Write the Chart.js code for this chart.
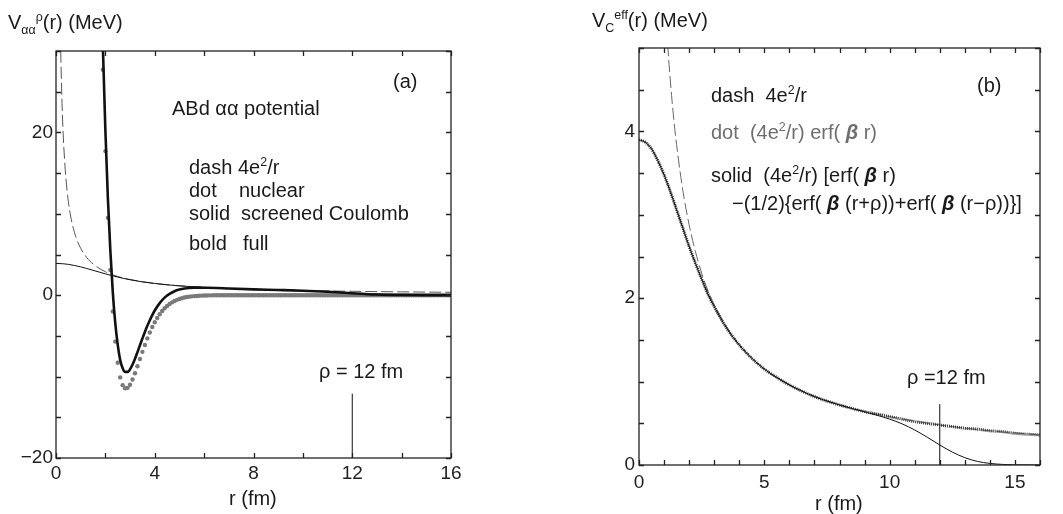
<!DOCTYPE html>
<html>
<head>
<meta charset="utf-8">
<script src="https://cdn.jsdelivr.net/npm/chart.js@4.4.0/dist/chart.umd.min.js"></script>
<style>
  body { margin: 0; background: #fff; width: 1063px; height: 514px; position: relative; overflow: hidden;
         font-family: "Liberation Sans", Arial, sans-serif; color: #1a1a1a; }
  canvas { position: absolute; top: 0; }
  .t { position: absolute; white-space: pre; font-size: 20px; line-height: 20px; }
  .ttl { font-size: 20px; line-height: 20px; }
  sup, sub { font-size: 0.62em; line-height: 0; }
  .gray { color: #6e6e6e; }
  .b { font-weight: bold; font-style: italic; }
</style>
</head>
<body>
<canvas id="chartA" width="531" height="514" style="left:0"></canvas>
<canvas id="chartB" width="532" height="514" style="left:531px"></canvas>

<!-- panel (a) text -->
<div class="t ttl" style="left:8px;top:12px">V<sub>αα</sub><sup>ρ</sup>(r) (MeV)</div>
<div class="t" style="left:393px;top:71px">(a)</div>
<div class="t" style="left:172px;top:98px">ABd αα potential</div>
<div class="t" style="left:189px;top:157px">dash</div><div class="t" style="left:238px;top:157px">4e<sup>2</sup>/r</div>
<div class="t" style="left:189px;top:180px">dot</div><div class="t" style="left:239px;top:180px">nuclear</div>
<div class="t" style="left:189px;top:203px">solid</div><div class="t" style="left:241px;top:203px">screened Coulomb</div>
<div class="t" style="left:189px;top:233px">bold</div><div class="t" style="left:243px;top:233px">full</div>
<div class="t" style="left:319px;top:361px">ρ = 12 fm</div>
<div class="t ttl" style="left:229px;top:488px">r (fm)</div>

<!-- panel (b) text -->
<div class="t ttl" style="left:592px;top:10px">V<sub>C</sub><sup>eff</sup>(r) (MeV)</div>
<div class="t" style="left:977px;top:75px">(b)</div>
<div class="t" style="left:711px;top:85px">dash  4e<sup>2</sup>/r</div>
<div class="t gray" style="left:711px;top:122px">dot  (4e<sup>2</sup>/r) erf( <span class="b">β</span> r)</div>
<div class="t" style="left:711px;top:165px">solid  (4e<sup>2</sup>/r) [erf( <span class="b">β</span> r)</div>
<div class="t" style="left:732px;top:193px">−(1/2){erf( <span class="b">β</span> (r+ρ))+erf( <span class="b">β</span> (r−ρ))}]</div>
<div class="t" style="left:907px;top:367px">ρ =12 fm</div>
<div class="t ttl" style="left:815px;top:493px">r (fm)</div>

<script>
// ---- data ----
// bare Coulomb 4e^2/r (dashed), panel (a)
const dashAR = [0.18, 0.2, 0.25, 0.3, 0.35, 0.4, 0.5, 0.6, 0.7, 0.8, 1, 1.25, 1.5, 2, 2.5, 3, 4, 5, 6, 8, 10, 12, 14, 16];
const dashAV = [32, 28.8, 23.0, 19.2, 16.5, 14.4, 11.5, 9.6, 8.23, 7.2, 5.76, 4.61, 3.84, 2.88, 2.30, 1.92, 1.44, 1.15, 0.96, 0.72, 0.58, 0.48, 0.41, 0.36];

// bare Coulomb 4e^2/r (dashed), panel (b)
const dashBR = [1.1, 1.2, 1.3, 1.4, 1.5, 1.75, 2, 2.25, 2.5, 2.75, 3, 3.5, 4, 5, 6, 8, 10, 12, 14, 16];
const dashBV = [5.24, 4.80, 4.43, 4.11, 3.84, 3.29, 2.88, 2.56, 2.30, 2.09, 1.92, 1.65, 1.44, 1.15, 0.96, 0.72, 0.58, 0.48, 0.41, 0.36];

// Coulomb curves sampled on a common r grid
const coulR = [0, 0.25, 0.5, 0.75, 1, 1.25, 1.5, 1.75, 2, 2.25, 2.5, 2.75, 3, 3.5, 4, 4.5, 5, 5.5, 6, 7, 8,
               9, 9.5, 10, 10.5, 11, 11.5, 12, 12.5, 13, 13.5, 14, 14.5, 15, 16];
// (4e^2/r) erf(beta r)  (dotted, panel b)
const erfV = [3.90, 3.87, 3.79, 3.65, 3.48, 3.28, 3.06, 2.84, 2.62, 2.42, 2.23, 2.05, 1.90, 1.64, 1.44, 1.28, 1.15, 1.05, 0.96, 0.82, 0.72,
              0.64, 0.61, 0.58, 0.55, 0.52, 0.50, 0.48, 0.46, 0.44, 0.43, 0.41, 0.40, 0.38, 0.36];
// screened Coulomb (thin solid, both panels)
const screenedV = [3.90, 3.87, 3.79, 3.65, 3.48, 3.28, 3.06, 2.84, 2.62, 2.42, 2.23, 2.05, 1.90, 1.64, 1.44, 1.28, 1.15, 1.05, 0.96, 0.82, 0.72,
                   0.637, 0.596, 0.550, 0.493, 0.420, 0.333, 0.240, 0.155, 0.088, 0.043, 0.019, 0.007, 0.002, 0];

// full potential (bold), panel (a)
const fullR = [1.8, 1.9, 2.0, 2.1, 2.2, 2.3, 2.4, 2.5, 2.6, 2.7, 2.8, 2.9, 3.0, 3.1, 3.2, 3.3, 3.4, 3.5, 3.6, 3.7, 3.8, 3.9, 4.0,
               4.2, 4.4, 4.6, 4.8, 5.0, 5.2, 5.4, 5.6, 5.8, 6.0, 6.5, 7, 8, 9, 10, 11, 12, 13, 14, 15, 16];
const fullV = [42.4, 30.4, 20.3, 12.0, 5.56, 0.38, -3.4, -6.07, -7.95, -8.96, -9.42, -9.42, -9.10, -8.52, -7.80, -6.99, -6.15, -5.32, -4.51, -3.76, -3.07, -2.44, -1.88,
               -0.97, -0.30, 0.16, 0.49, 0.69, 0.82, 0.89, 0.92, 0.93, 0.92, 0.89, 0.82, 0.72, 0.64, 0.55, 0.42, 0.24, 0.09, 0.02, 0, 0];

// nuclear potential (gray dots), one dot every 0.1 fm from r = 1.9 fm
const nuclearR0 = 1.9, nuclearDr = 0.1;
const nuclearV = [
  27.7, 17.7, 9.5, 3.1, -2.0, -5.7, -8.3, -10.1, -11.05, -11.44, -11.38, -11.0, -10.36, -9.59, -8.73, -7.84,
  -6.96, -6.11, -5.31, -4.58, -3.91, -3.32, -2.80, -2.34, -1.95, -1.61, -1.32, -1.09, -0.88, -0.71, -0.57, -0.46,
  -0.37, -0.29, -0.23, -0.18, -0.14, -0.11, -0.09, -0.07, -0.05, -0.04, -0.03, -0.02, -0.02, -0.01,
  0, 0, 0, 0, 0, 0, 0, 0, 0, 0, 0, 0, 0, 0, 0, 0,
  0, 0, 0, 0, 0, 0, 0, 0, 0, 0, 0, 0, 0, 0, 0, 0,
  0, 0, 0, 0, 0, 0, 0, 0, 0, 0, 0, 0, 0, 0, 0, 0,
  0, 0, 0, 0, 0, 0, 0, 0, 0, 0, 0, 0, 0, 0, 0, 0,
  0, 0, 0, 0, 0, 0, 0, 0, 0, 0, 0, 0, 0, 0, 0, 0,
  0, 0, 0, 0, 0, 0, 0, 0, 0, 0, 0, 0, 0, 0, 0, 0
];

// rho = 12 fm marker lines
const rhoA = [[12, -20], [12, -12.1]];
const rhoB = [[12, 0], [12, 0.73]];

// tick labels
const ticksAX = [0, 4, 8, 12, 16], ticksAY = [-20, 0, 20];
const ticksBX = [0, 5, 10, 15], ticksBY = [0, 2, 4];

// ---- helpers ----
const pts = (xs, ys) => xs.map((x, i) => ({ x: x, y: ys[i] }));
const fmt = v => (v < 0 ? '\u2212' + Math.abs(v) : String(v));
const tickFont = { family: '"Liberation Sans", Arial, sans-serif', size: 19 };

// frame with inward ticks on all four sides
const framePlugin = {
  id: 'frame',
  afterDatasetsDraw(chart) {
    const { ctx, chartArea: a, scales: { x, y } } = chart;
    const L = 5;
    ctx.save();
    ctx.strokeStyle = '#222';
    ctx.lineWidth = 1.3;
    ctx.strokeRect(a.left, a.top, a.right - a.left, a.bottom - a.top);
    ctx.beginPath();
    x.ticks.forEach(t => {
      const px = Math.round(x.getPixelForValue(t.value)) + 0.5;
      ctx.moveTo(px, a.bottom); ctx.lineTo(px, a.bottom - L);
      ctx.moveTo(px, a.top); ctx.lineTo(px, a.top + L);
    });
    y.ticks.forEach(t => {
      const py = Math.round(y.getPixelForValue(t.value)) + 0.5;
      ctx.moveTo(a.left, py); ctx.lineTo(a.left + L, py);
      ctx.moveTo(a.right, py); ctx.lineTo(a.right - L, py);
    });
    ctx.stroke();
    ctx.restore();
  }
};

function makeOptions(cfg) {
  return {
    responsive: false,
    animation: false,
    devicePixelRatio: 1,
    layout: { padding: cfg.padding },
    plugins: { legend: { display: false }, tooltip: { enabled: false }, title: { display: false } },
    elements: { point: { radius: 0 }, line: { cubicInterpolationMode: 'monotone' } },
    scales: {
      x: {
        type: 'linear', min: cfg.xMin, max: cfg.xMax,
        grid: { display: false, drawTicks: false }, border: { display: false },
        afterFit: s => { s.height = cfg.xHeight; },
        ticks: {
          stepSize: cfg.xStep, autoSkip: false, maxRotation: 0, padding: cfg.xPad,
          color: '#222', font: tickFont,
          callback: v => (cfg.xLabels.includes(v) ? fmt(v) : '')
        }
      },
      y: {
        type: 'linear', min: cfg.yMin, max: cfg.yMax,
        grid: { display: false, drawTicks: false }, border: { display: false },
        afterFit: s => { s.width = cfg.yWidth; },
        ticks: {
          stepSize: cfg.yStep, autoSkip: false, padding: cfg.yPad,
          color: '#222', font: tickFont,
          callback: v => (cfg.yLabels.includes(v) ? fmt(v) : '')
        }
      }
    }
  };
}

// ---- panel (a) ----
new Chart(document.getElementById('chartA'), {
  type: 'line',
  data: {
    datasets: [
      { data: pts(fullR, fullV), borderColor: '#111', borderWidth: 2.6, fill: false },
      { data: pts(coulR, screenedV), borderColor: '#111', borderWidth: 1, fill: false },
      { data: pts(dashAR, dashAV), borderColor: '#555', borderWidth: 1, borderDash: [12, 4], fill: false },
      { data: nuclearV.map((v, i) => ({ x: +(nuclearR0 + i * nuclearDr).toFixed(2), y: v })),
        showLine: false, pointRadius: 2.2, pointBackgroundColor: '#7a7a7a', pointBorderWidth: 0 },
      { data: rhoA.map(p => ({ x: p[0], y: p[1] })), borderColor: '#111', borderWidth: 1, cubicInterpolationMode: 'default', tension: 0 }
    ]
  },
  options: makeOptions({
    padding: { left: 0, top: 51, right: 80, bottom: 0 },
    xMin: 0, xMax: 16, xStep: 2, xLabels: ticksAX, xHeight: 56, xPad: 4,
    yMin: -20, yMax: 30, yStep: 5, yLabels: ticksAY, yWidth: 56, yPad: 3
  }),
  plugins: [framePlugin]
});

// ---- panel (b) ----
new Chart(document.getElementById('chartB'), {
  type: 'line',
  data: {
    datasets: [
      { data: pts(coulR, screenedV), borderColor: '#111', borderWidth: 1, fill: false },
      { data: pts(coulR, erfV), borderColor: '#333', borderWidth: 3, borderDash: [1, 1], fill: false },
      { data: pts(dashBR, dashBV), borderColor: '#666', borderWidth: 1, borderDash: [12, 4], fill: false },
      { data: rhoB.map(p => ({ x: p[0], y: p[1] })), borderColor: '#111', borderWidth: 1, cubicInterpolationMode: 'default', tension: 0 }
    ]
  },
  options: makeOptions({
    padding: { left: 0, top: 48, right: 23, bottom: 0 },
    xMin: 0, xMax: 16, xStep: 1, xLabels: ticksBX, xHeight: 49, xPad: 6,
    yMin: 0, yMax: 5, yStep: 0.5, yLabels: ticksBY, yWidth: 108, yPad: 4
  }),
  plugins: [framePlugin]
});
</script>
</body>
</html>
